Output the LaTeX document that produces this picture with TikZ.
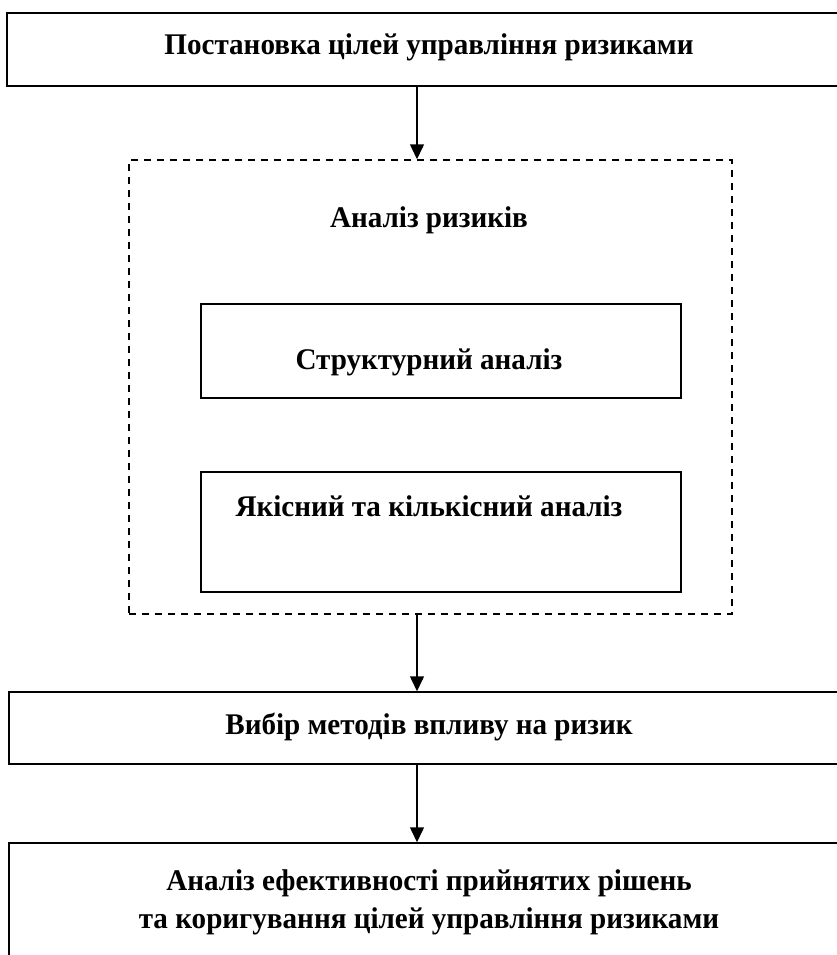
\documentclass[tikz,border=0pt]{standalone}
\usepackage{fontspec}
\setmainfont{Liberation Serif}[FakeStretch=0.97]
\usetikzlibrary{arrows.meta, positioning}
\tikzstyle{blk}=[draw,line width=1.5pt,inner sep=0pt]
\tikzstyle{grp}=[draw,line width=1.5pt,dash pattern=on 7pt off 6pt,inner sep=0pt]
\tikzstyle{lbl}=[anchor=base,inner sep=0pt,font=\fontsize{30}{38}\selectfont\bfseries]
\tikzstyle{arr}=[line width=1.5pt,-{Triangle[length=15pt,width=14pt]}]

\begin{document}
\begin{tikzpicture}[x=1pt,y=-1pt]
    \clip (0,0) rectangle (837,955);
    \fill[white] (0,0) rectangle (837,955);
    % outer boxes (right side runs off the page)
    \node[blk,minimum width=846pt,minimum height=73pt] (goal) at (430,49.5) {};
    \node[grp,minimum width=603pt,minimum height=454pt] (anl) at (430.5,387) {};
    \node[blk,minimum width=480pt,minimum height=94pt] (str) at (441,351) {};
    \node[blk,minimum width=480pt,minimum height=120pt] (qlt) at (441,532) {};
    \node[blk,minimum width=844pt,minimum height=72pt] (meth) at (431,728) {};
    \node[blk,minimum width=844pt,minimum height=117pt] (eff) at (431,901.5) {};
    % texts
    \node[lbl] (goalt) at (429,55) {Постановка цілей управління ризиками};
    \node[lbl] (anlt) at (429,227) {Аналіз ризиків};
    \node[lbl] (strt) at (429,369) {Структурний аналіз};
    \node[lbl] (qltt) at (429,516) {Якісний та кількісний аналіз};
    \node[lbl] (metht) at (429,734) {Вибір методів впливу на ризик};
    \node[lbl,anchor=center,align=center] (efft) at (429,902) {Аналіз ефективності прийнятих рішень\\та коригування цілей управління ризиками};
    % arrows
    \coordinate (ax) at (417,0);
    \draw[arr] (goal.south -| ax) -- (anl.north -| ax);
    \draw[arr] (anl.south -| ax) -- (meth.north -| ax);
    \draw[arr] (meth.south -| ax) -- (eff.north -| ax);
\end{tikzpicture}
\end{document}
